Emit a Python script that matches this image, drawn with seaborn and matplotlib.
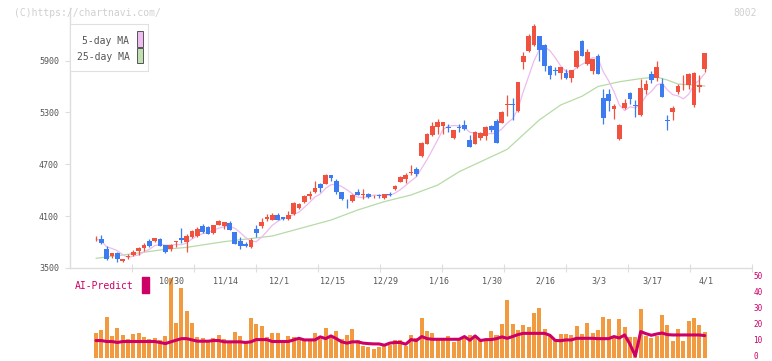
import numpy as np
import pandas as pd
import seaborn as sns
import matplotlib.pyplot as plt
from matplotlib.patches import Rectangle
from matplotlib.transforms import offset_copy

# daily candles (price in yen)
opens = [3830, 3832, 3723, 3639, 3677, 3577, 3630, 3650, 3697, 3734,
         3817, 3817, 3836, 3766, 3716, 3798, 3847, 3801, 3855, 3870,
         3986, 3974, 3901, 3998, 3986, 4021, 3916, 3812, 3780, 3743,
         3951, 3986, 4063, 4055, 4113, 4085, 4067, 4125, 4194, 4264,
         4333, 4379, 4477, 4472, 4576, 4511, 4375, 4245, 4275, 4379,
         4350, 4356, 4340, 4338, 4310, 4355, 4414, 4495, 4530, 4605,
         4646, 4796, 4939, 5039, 5128, 5147, 5130, 5008, 5135, 5154,
         4981, 4939, 5004, 5027, 5143, 5201, 5178, 5385, 5395, 5317,
         5883, 6010, 6080, 6184, 6080, 5837, 5782, 5756, 5756, 5698,
         5826, 6126, 5860, 5779, 5953, 5467, 5513, 5340, 4992, 5351,
         5525, 5382, 5270, 5559, 5745, 5698, 5629, 5205, 5305, 5536,
         5648, 5617, 5386, 5600, 5802]
highs = [3865, 3878, 3751, 3672, 3685, 3605, 3658, 3712, 3746, 3786,
         3836, 3850, 3850, 3766, 3774, 3817, 3963, 3893, 3940, 3974,
         4013, 3986, 3998, 4061, 4036, 4040, 3920, 3855, 3800, 3847,
         3998, 4079, 4125, 4136, 4132, 4090, 4163, 4263, 4254, 4344,
         4391, 4507, 4480, 4588, 4580, 4530, 4380, 4298, 4352, 4414,
         4414, 4367, 4350, 4356, 4356, 4375, 4460, 4565, 4603, 4692,
         4672, 4953, 5067, 5187, 5221, 5193, 5166, 5100, 5166, 5216,
         5039, 5085, 5074, 5143, 5154, 5228, 5317, 5502, 5467, 5656,
         6000, 6207, 6323, 6190, 6092, 5849, 5826, 5826, 5802, 5795,
         6022, 6138, 6034, 5922, 5976, 5571, 5571, 5397, 5166, 5455,
         5536, 5444, 5687, 5675, 5779, 5895, 5698, 5270, 5374, 5629,
         5733, 5756, 5768, 5733, 5990]
lows = [3812, 3776, 3593, 3619, 3566, 3566, 3604, 3642, 3646, 3693,
        3739, 3801, 3755, 3674, 3700, 3747, 3790, 3689, 3851, 3855,
        3901, 3889, 3893, 3994, 3951, 3935, 3774, 3720, 3740, 3735,
        3863, 3967, 4048, 4050, 4050, 4060, 4055, 4113, 4183, 4252,
        4304, 4372, 4379, 4468, 4507, 4356, 4290, 4190, 4268, 4340,
        4298, 4310, 4310, 4310, 4298, 4330, 4402, 4491, 4483, 4576,
        4565, 4790, 4935, 5027, 5047, 5055, 5078, 4997, 5078, 5100,
        4900, 4935, 4985, 4985, 5074, 4950, 5174, 5259, 5212, 5305,
        5802, 5999, 6069, 5895, 5779, 5687, 5733, 5687, 5690, 5652,
        5820, 5950, 5849, 5745, 5740, 5166, 5317, 5224, 4981, 5340,
        5397, 5247, 5259, 5513, 5640, 5664, 5475, 5097, 5212, 5513,
        5559, 5571, 5363, 5536, 5768]
closes = [3835, 3793, 3604, 3670, 3600, 3600, 3638, 3685, 3735, 3770,
          3757, 3847, 3759, 3689, 3766, 3803, 3824, 3870, 3928, 3951,
          3916, 3893, 3998, 4048, 4032, 3940, 3778, 3755, 3760, 3824,
          3905, 4032, 4094, 4109, 4055, 4070, 4113, 4252, 4240, 4333,
          4356, 4426, 4426, 4571, 4541, 4379, 4298, 4235, 4345, 4345,
          4360, 4321, 4348, 4330, 4356, 4348, 4449, 4553, 4576, 4615,
          4588, 4943, 5055, 5143, 5193, 5193, 5118, 5097, 5125, 5108,
          4904, 5074, 5062, 5131, 5097, 4950, 5305, 5395, 5385, 5652,
          5953, 6184, 6300, 6022, 5837, 5733, 5776, 5826, 5698, 5791,
          6011, 5953, 6000, 5918, 5745, 5236, 5432, 5374, 5154, 5409,
          5455, 5375, 5583, 5629, 5675, 5826, 5478, 5197, 5351, 5606,
          5656, 5745, 5756, 5612, 5988]

# volume-style bars and AI-Predict line (right axis, 0-50)
volume = [15.4, 17.3, 25.9, 13.6, 18.5, 14.2, 11.7, 14.8, 15.4, 13.0,
          11.7, 12.3, 11.1, 13.6, 52.0, 21.6, 43.8, 29.6, 21.6, 13.0,
          12.3, 11.1, 12.3, 14.2, 11.7, 9.9, 16.0, 13.6, 9.3, 24.7,
          21.0, 19.8, 13.0, 15.4, 15.4, 10.5, 13.6, 13.0, 11.1, 11.7,
          11.7, 15.4, 11.7, 18.5, 13.6, 16.7, 11.7, 14.2, 17.9, 11.1,
          7.4, 6.8, 5.6, 6.8, 8.6, 8.0, 11.1, 11.5, 7.8, 14.6,
          12.8, 25.1, 17.0, 15.8, 12.5, 11.3, 13.5, 9.8, 11.6, 12.9,
          14.1, 12.2, 11.0, 10.7, 16.6, 14.1, 21.5, 36.3, 21.5, 17.8,
          20.9, 19.6, 28.3, 31.4, 18.4, 14.1, 11.5, 15.2, 15.2, 14.6,
          20.2, 15.2, 22.0, 15.8, 17.7, 25.7, 24.5, 14.0, 24.5, 19.5,
          13.4, 13.4, 30.7, 14.0, 12.8, 14.0, 27.0, 20.8, 10.9, 18.3,
          10.9, 23.3, 25.0, 20.8, 16.5]
ai_predict = [10.9, 10.9, 10.3, 10.3, 9.7, 10.3, 10.3, 10.3, 10.3, 10.3,
              10.3, 10.3, 9.7, 9.0, 10.1, 11.1, 12.1, 12.1, 11.3, 10.5,
              10.5, 10.5, 10.9, 10.9, 10.1, 10.1, 10.1, 10.1, 9.7, 10.1,
              11.5, 11.5, 11.5, 10.3, 10.3, 10.3, 10.3, 11.3, 12.3, 11.3,
              11.3, 11.3, 13.2, 12.1, 13.8, 12.1, 10.1, 9.3, 10.1, 10.1,
              9.3, 9.0, 8.8, 8.8, 8.0, 9.3, 9.7, 9.7, 8.6, 11.5,
              10.9, 13.4, 12.1, 11.7, 11.7, 11.7, 11.7, 11.7, 11.7, 13.4,
              11.1, 13.8, 10.9, 11.5, 11.5, 12.1, 13.2, 12.3, 13.4, 14.6,
              15.4, 15.4, 15.4, 15.4, 15.4, 14.2, 11.0, 10.8, 11.3, 11.3,
              12.3, 12.3, 12.3, 12.3, 12.1, 12.1, 12.1, 13.4, 12.5, 14.4,
              8.6, 1.2, 16.5, 15.2, 14.2, 15.0, 15.6, 14.6, 14.4, 14.4,
              14.4, 14.4, 14.4, 14.4, 14.0]

# 25-day MA (needs history before the first candle)
ma25_day = [0, 6, 13, 17, 24, 33, 44, 49, 54, 59, 64, 68, 77, 83, 87, 91,
            94, 98, 102, 105, 107, 109, 114]
ma25 = [3612, 3658, 3716, 3739, 3805, 3870, 4055, 4171, 4268, 4345, 4460,
        4614, 4873, 5212, 5386, 5487, 5600, 5655, 5692, 5710, 5675, 5629, 5606]

date_labels = ['10/30', '11/14', '12/1', '12/15', '12/29', '1/16',
               '1/30', '2/16', '3/3', '3/17', '4/1']
date_pos = list(range(14, 115, 10))
price_ticks = [3500, 4100, 4700, 5300, 5900]
vol_ticks = [0, 10, 20, 30, 40, 50]

# ---- layout (pixel based, 772x361) ----
W, H = 772, 361
X0, STEP = 96, 5.34          # pixel centre of first candle, spacing
def bx(px):
    return (px - X0) / STEP

RED, BLUE = '#f0523f', '#3d7cf0'
MAGENTA = '#cc0066'
GRID = '#dddddd'
TXT = '#555555'

sns.set_theme(style='white')
plt.rcParams['font.family'] = ['DejaVu Sans Mono', 'DejaVu Sans']

df = pd.DataFrame({'open': opens, 'high': highs, 'low': lows, 'close': closes,
                   'volume': volume, 'ai': ai_predict})
df['day'] = np.arange(len(df))
df['ma5'] = df['close'].rolling(5, min_periods=1).mean()
ma25_df = pd.DataFrame({'day': ma25_day, 'ma25': ma25})

fig = plt.figure(figsize=(W / 100, H / 100), dpi=100)
ax = fig.add_axes([70 / W, (H - 268) / H, 682 / W, 260 / H])
axv = fig.add_axes([70 / W, 3 / H, 682 / W, 80 / H])

# moving averages
sns.lineplot(data=ma25_df, x='day', y='ma25', ax=ax, color='#b6dba6', lw=0.9)
sns.lineplot(data=df, x='day', y='ma5', ax=ax, color='#ecbcee', lw=0.9)

# candles
up = df['close'] >= df['open']
colors = np.where(up, RED, BLUE)
ax.vlines(df['day'], df['low'], df['high'], colors=colors, lw=0.9, zorder=3)
body_lo = np.minimum(df['open'], df['close'])
body_h = np.maximum((df['close'] - df['open']).abs(), 10)
ax.bar(df['day'], body_h, bottom=body_lo, width=0.88, color=colors,
       linewidth=0, zorder=4)

ax.set_xlim(bx(70), bx(752))
ax.set_ylim(3500, 3500 + 260 * 600 / 51.85)
ax.set_yticks(price_ticks)
ax.set_yticklabels([str(t) for t in price_ticks], fontsize=6, color=TXT)
ax.set_xticks([bx(p) for p in range(132, 753, 62)])
ax.set_xticklabels([])
ax.tick_params(axis='y', length=3.6, width=0.8, color=GRID, pad=4.3, left=True)
ax.tick_params(axis='x', direction='inout', length=6, width=0.8, color=GRID,
               bottom=True)
for s in ['top', 'right']:
    ax.spines[s].set_visible(False)
for s in ['left', 'bottom']:
    ax.spines[s].set_color(GRID)
    ax.spines[s].set_linewidth(1)
ax.set_xlabel('')
ax.set_ylabel('')

# lower panel: bars + AI-Predict
axv.bar(df['day'], df['volume'], width=0.75, color='#f29a40', linewidth=0)
sns.lineplot(data=df, x='day', y='ai', ax=axv, color=MAGENTA, lw=2.2)
axv.set_xlim(bx(70), bx(752))
axv.set_ylim(0, 50)
axv.set_yticks([])
axv.set_xticks([])
for s in axv.spines.values():
    s.set_visible(False)
axv.set_xlabel('')
axv.set_ylabel('')
axv.patch.set_alpha(0)

# right-hand scale labels, nudged up a little so "0" stays inside the figure
lab_tr = offset_copy(axv.get_yaxis_transform(), fig=fig, x=1.5, y=1.5,
                     units='dots')
for t in vol_ticks:
    axv.text(1.0, t, str(t), transform=lab_tr, ha='left', va='center',
             fontsize=5.5, color=MAGENTA)

for pos, lab in zip(date_pos, date_labels):
    axv.text(pos + 0.2, 1 - 3.5 / 80, lab, transform=axv.get_xaxis_transform(),
             ha='center', va='center', fontsize=6, color=TXT)

# figure texts (pixel coordinates)
def ft(px, py, s, **kw):
    fig.text(px / W, 1 - py / H, s, **kw)

ft(14, 12.5, '(C)https://chartnavi.com/', fontsize=7, color='#d0d0d0',
   ha='left', va='center')
ft(757, 12.5, '8002', fontsize=7, color='#d0d0d0', ha='right', va='center')
ft(75, 286, 'AI-Predict', fontsize=7, color=MAGENTA, ha='left', va='center')
fig.patches.append(Rectangle((142 / W, 1 - 293 / H), 7 / W, 16 / H,
                             transform=fig.transFigure, color=MAGENTA))

# legend box
fig.patches.append(Rectangle((70 / W, 1 - 71 / H), 78 / W, 47 / H,
                             transform=fig.transFigure, facecolor='white',
                             edgecolor='#e0e0e0', lw=0.8, zorder=5))
ft(129.5, 40.7, '5-day MA', fontsize=7, color=TXT, ha='right', va='center',
   zorder=6)
ft(129.5, 57.3, '25-day MA', fontsize=7, color=TXT, ha='right', va='center',
   zorder=6)
fig.patches.append(Rectangle((137 / W, 1 - 46.5 / H), 6 / W, 15 / H,
                             transform=fig.transFigure, facecolor='#efbdef',
                             edgecolor='#555555', lw=0.7, zorder=6))
fig.patches.append(Rectangle((137 / W, 1 - 63.3 / H), 6 / W, 15 / H,
                             transform=fig.transFigure, facecolor='#bfe0b0',
                             edgecolor='#555555', lw=0.7, zorder=6))

fig.savefig('out.png', dpi=100)
